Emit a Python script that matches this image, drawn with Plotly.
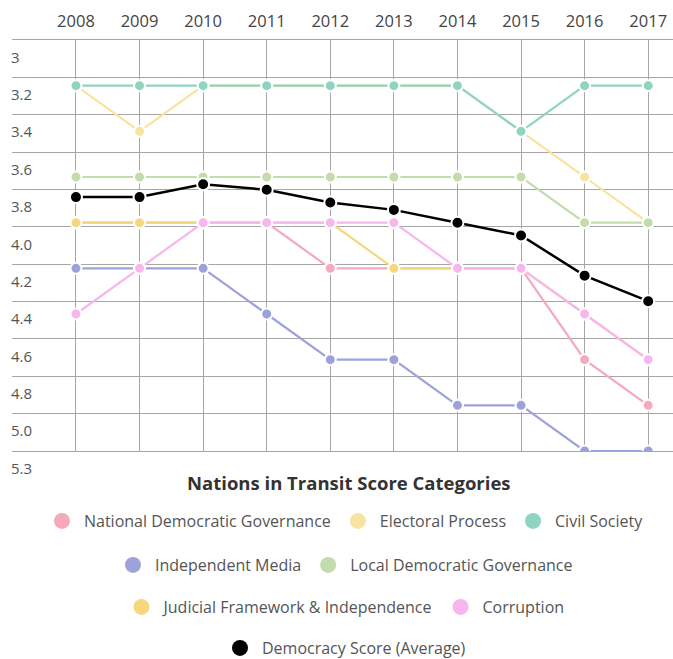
import plotly.graph_objects as go

years = [2008, 2009, 2010, 2011, 2012, 2013, 2014, 2015, 2016, 2017]
year_labels = ["2008", "2009", "2010", "2011", "2012", "2013", "2014", "2015", "2016", "2017"]

national_democratic_governance = [4.00, 4.00, 4.00, 4.00, 4.25, 4.25, 4.25, 4.25, 4.75, 5.00]
electoral_process = [3.25, 3.50, 3.25, 3.25, 3.25, 3.25, 3.25, 3.50, 3.75, 4.00]
civil_society = [3.25, 3.25, 3.25, 3.25, 3.25, 3.25, 3.25, 3.50, 3.25, 3.25]
independent_media = [4.25, 4.25, 4.25, 4.50, 4.75, 4.75, 5.00, 5.00, 5.25, 5.25]
local_democratic_governance = [3.75, 3.75, 3.75, 3.75, 3.75, 3.75, 3.75, 3.75, 4.00, 4.00]
judicial_framework = [4.00, 4.00, 4.00, 4.00, 4.00, 4.25, 4.25, 4.25, 4.50, 4.75]
corruption = [4.50, 4.25, 4.00, 4.00, 4.00, 4.00, 4.25, 4.25, 4.50, 4.75]
democracy_score = [3.86, 3.86, 3.79, 3.82, 3.89, 3.93, 4.00, 4.07, 4.29, 4.43]

y_min, y_max = 3.0, 5.25
y_tick_labels = ["3", "3.2", "3.4", "3.6", "3.8", "4.0", "4.2", "4.4", "4.6", "4.8", "5.0", "5.3"]
n = len(y_tick_labels)
y_tick_vals = [y_min + i * (y_max - y_min) / (n - 1) for i in range(n)]

series = [
    ("National Democratic Governance", national_democratic_governance, "#f6a9bd", "legend"),
    ("Electoral Process", electoral_process, "#f9e3a0", "legend"),
    ("Civil Society", civil_society, "#8fd4c1", "legend"),
    ("Independent Media", independent_media, "#9da3da", "legend2"),
    ("Local Democratic Governance", local_democratic_governance, "#c3dcab", "legend2"),
    ("Judicial Framework & Independence", judicial_framework, "#f6d77e", "legend3"),
    ("Corruption", corruption, "#f7b6ee", "legend3"),
    ("Democracy Score (Average)", democracy_score, "#000000", "legend4"),
]

fig = go.Figure()
for name, vals, color, lg in series:
    is_avg = color == "#000000"
    fig.add_trace(go.Scatter(
        x=years, y=vals, name=name, mode="lines+markers",
        line=dict(color=color, width=2.5 if is_avg else 2.2),
        marker=dict(size=12 if is_avg else 11, color=color, line=dict(color="white", width=2)),
        showlegend=False, legendgroup=name,
    ))
for name, vals, color, lg in series:
    fig.add_trace(go.Scatter(
        x=[None], y=[None], name=name, mode="markers",
        marker=dict(size=20, color=color),
        showlegend=True, legend=lg, legendgroup=name,
    ))

leg_font = dict(family="Open Sans", size=16, color="#555555")
def leg(ypx):
    return dict(orientation="h", x=0.503, xanchor="center", xref="paper",
                y=1 - ypx / 659, yanchor="middle", yref="container",
                font=leg_font, bgcolor="rgba(0,0,0,0)", itemwidth=34, itemclick=False)

fig.update_layout(
    width=673, height=659,
    margin=dict(l=12, r=0, t=40, b=208, autoexpand=False),
    plot_bgcolor="white", paper_bgcolor="white",
    font=dict(family="Open Sans", color="#555555"),
    legend=leg(521),
    legend2=leg(565),
    legend3=leg(607),
    legend4=leg(648),
    annotations=[dict(
        text="<b>Nations in Transit Score Categories</b>", xref="paper", yref="paper",
        x=0.51, y=-0.0762, xanchor="center", yanchor="middle", showarrow=False,
        font=dict(family="Open Sans", size=18.5, color="#333333"),
    )],
)
fig.update_xaxes(
    side="top", range=[2006.994, 2017.39], tickvals=years, ticktext=year_labels,
    showgrid=True, gridcolor="#a6a6a6", gridwidth=1, zeroline=False,
    showline=True, mirror=True, linecolor="#a6a6a6", linewidth=1,
    ticks="", ticklabelstandoff=5, automargin=False,
    tickfont=dict(family="Open Sans", size=16.5, color="#444444"),
)
fig.update_yaxes(
    range=[y_max, y_min], tickvals=y_tick_vals, ticktext=y_tick_labels,
    ticklabelposition="inside bottom", ticklabeloverflow="allow",
    ticklabelshift=-7, ticklabelstandoff=-4, automargin=False,
    showgrid=True, gridcolor="#a6a6a6", gridwidth=1, zeroline=False, showline=False,
    ticks="", tickfont=dict(family="Open Sans", size=15, color="#555555"),
)

fig.write_html(
    "out.html",
    config={"displayModeBar": False},
    post_script="document.body.style.margin='0px';document.body.style.overflow='hidden';",
)
